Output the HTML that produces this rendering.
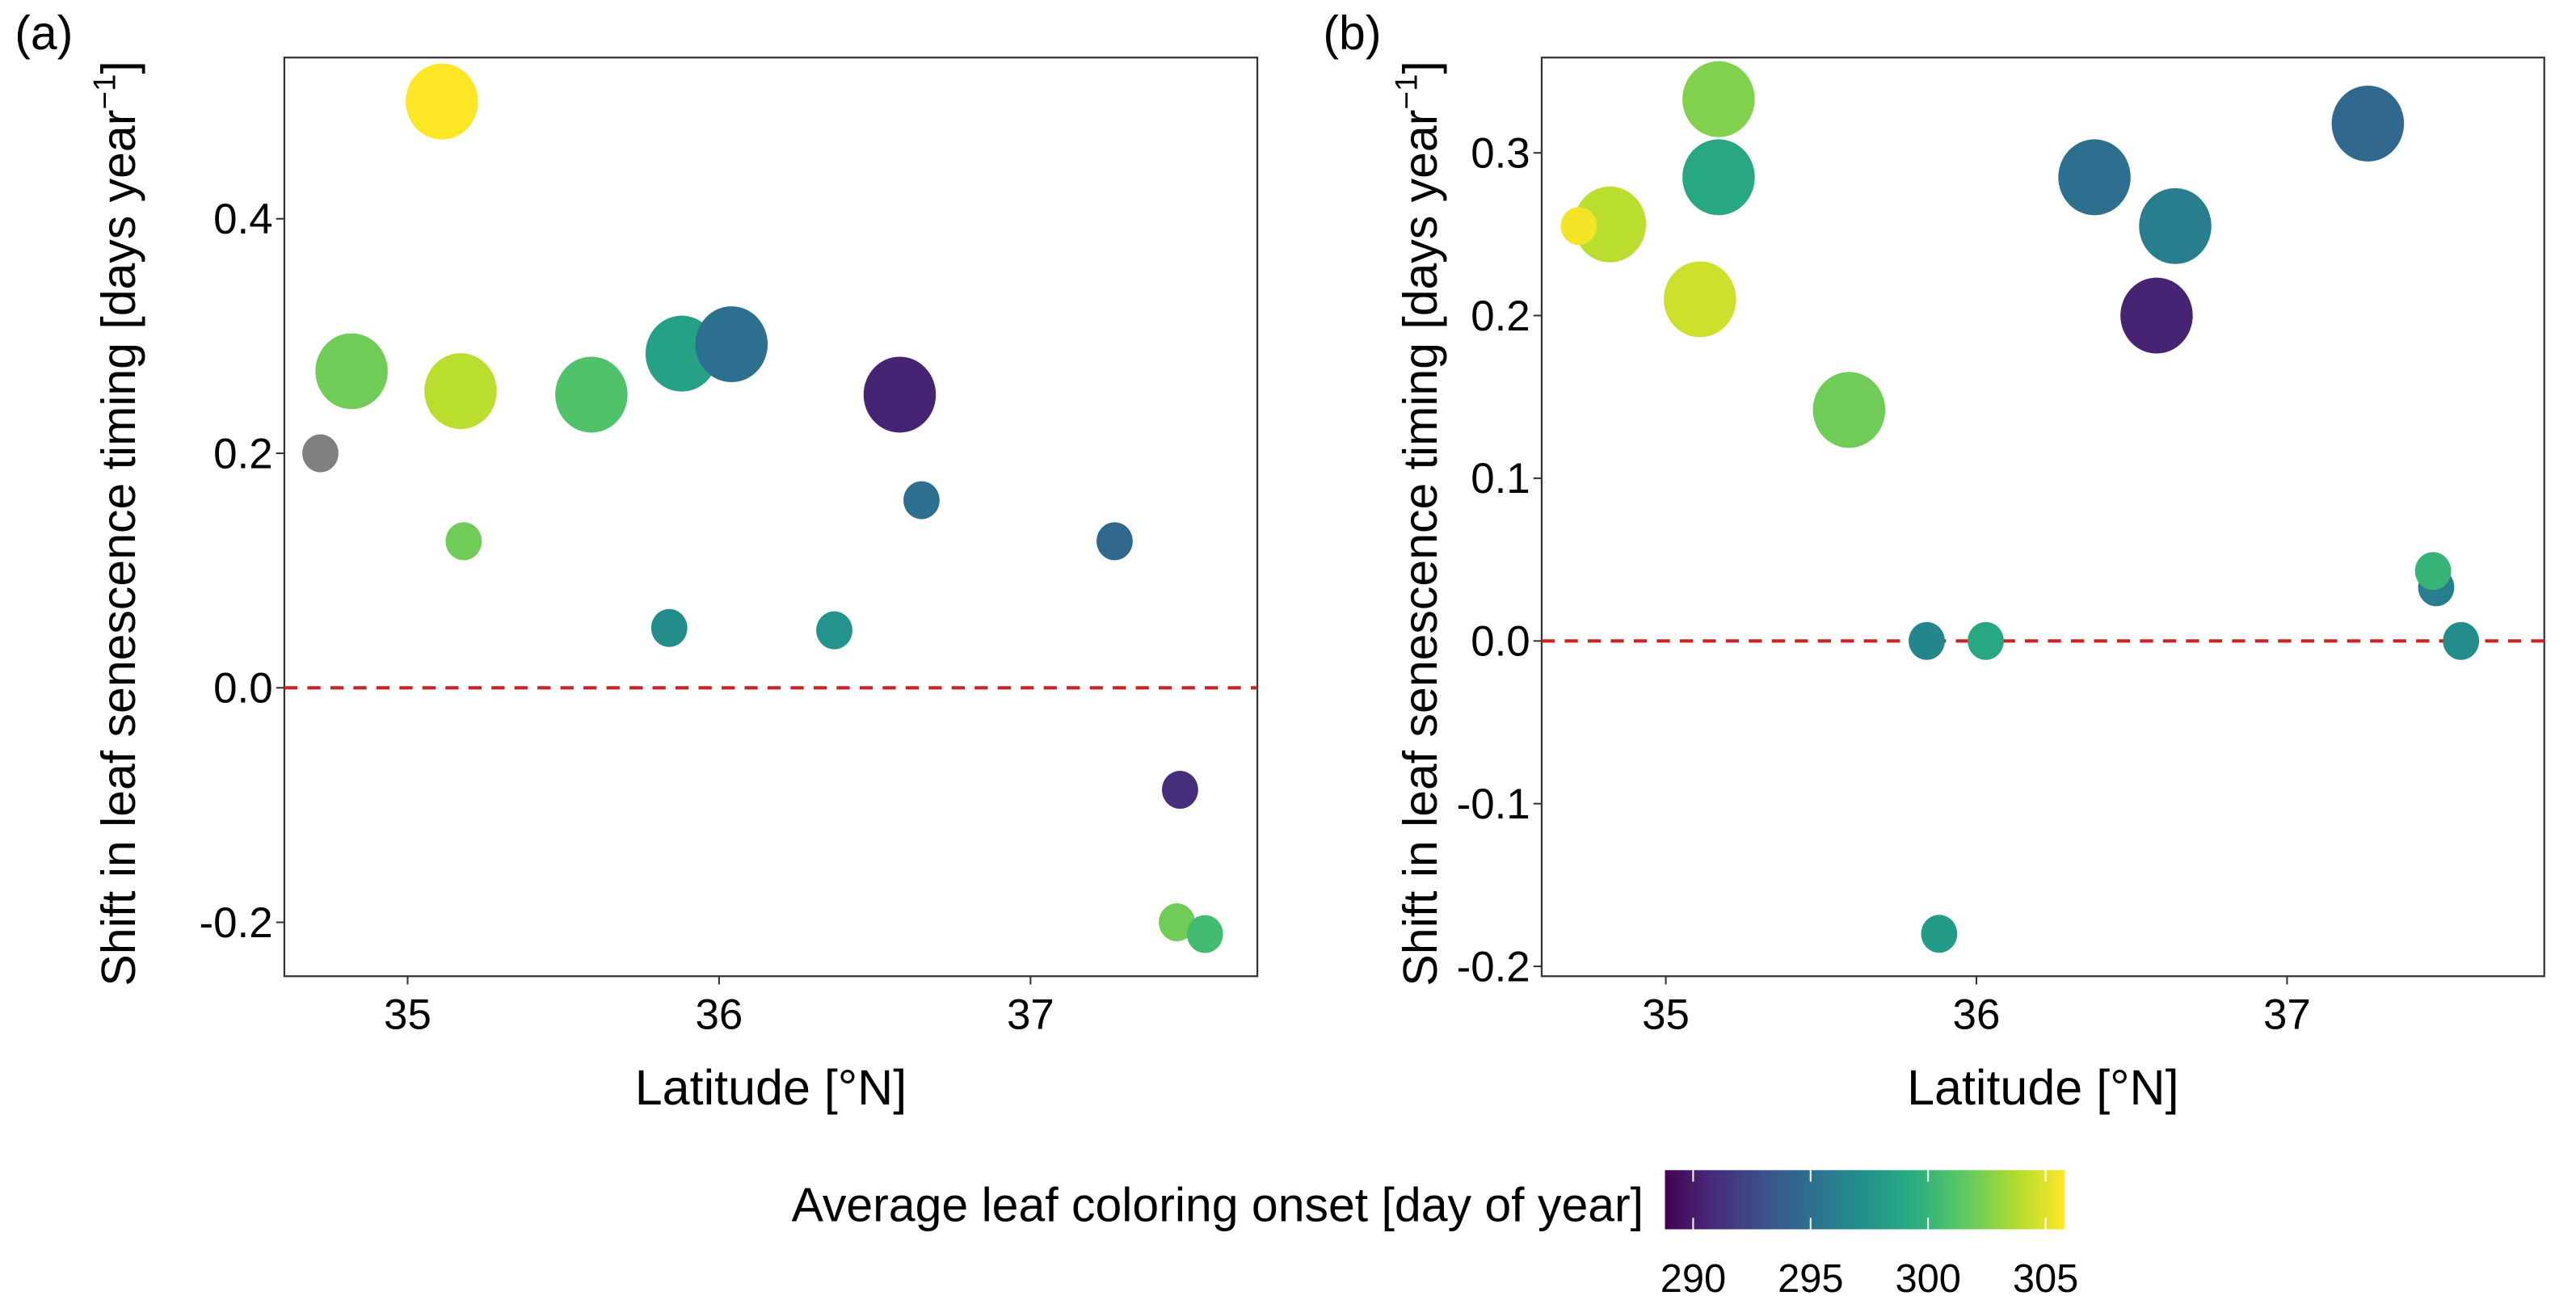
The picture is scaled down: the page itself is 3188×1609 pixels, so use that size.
<!DOCTYPE html>
<html><head><meta charset="utf-8"><style>
html,body{margin:0;padding:0;background:#fff}
svg{display:block}
text{font-family:"Liberation Sans",Arial,sans-serif;fill:#000}
</style></head><body>
<svg id="fig" width="3188" height="1609" viewBox="0 0 1567.3 791" xmlns="http://www.w3.org/2000/svg">
<defs>
<linearGradient id="vir" x1="0" x2="1" y1="0" y2="0">
<stop offset="0" stop-color="#440154"/><stop offset="0.125" stop-color="#472d7b"/><stop offset="0.25" stop-color="#3b528b"/><stop offset="0.375" stop-color="#2c728e"/><stop offset="0.5" stop-color="#21918c"/><stop offset="0.625" stop-color="#28ae80"/><stop offset="0.75" stop-color="#5ec962"/><stop offset="0.875" stop-color="#addc30"/><stop offset="1" stop-color="#fde725"/>
</linearGradient>
</defs>
<g id="layer"></g>
</svg>
<script>
// Panel (a) data
const latA = [35.11, 34.82, 35.17, 35.59, 35.88, 36.04, 36.58, 34.72, 35.18, 36.65, 37.27, 35.84, 36.37, 37.48, 37.47, 37.56];
const shiftA = [0.50, 0.27, 0.253, 0.25, 0.285, 0.293, 0.25, 0.20, 0.125, 0.16, 0.125, 0.051, 0.049, -0.087, -0.20, -0.21];
const bigA = [1, 1, 1, 1, 1, 1, 1, 0, 0, 0, 0, 0, 0, 0, 0, 0];
const onsetA = [306, 302, 304, 301, 298.5, 295, 290.5, null, 302, 295, 294.5, 297, 297.5, 291, 302, 300.5];
// Panel (b) data
const latB = [34.82, 34.72, 35.11, 35.17, 35.17, 35.59, 36.38, 36.64, 36.58, 37.26, 35.84, 36.03, 35.88, 37.48, 37.47, 37.56];
const shiftB = [0.256, 0.255, 0.21, 0.333, 0.285, 0.142, 0.285, 0.255, 0.20, 0.318, 0.0, 0.0, -0.18, 0.033, 0.043, 0.0];
const bigB = [1, 0, 1, 1, 1, 1, 1, 1, 1, 1, 0, 0, 0, 0, 0, 0];
const onsetB = [304, 305.5, 304.5, 302.5, 299, 302, 295, 296, 290.5, 294.5, 296.5, 299, 298, 296, 300, 297];
const xTicks = [35, 36, 37];
const yTicksA = [-0.2, 0.0, 0.2, 0.4];
const yTicksALabels = ["-0.2", "0.0", "0.2", "0.4"];
const yTicksB = [-0.2, -0.1, 0.0, 0.1, 0.2, 0.3];
const yTicksBLabels = ["-0.2", "-0.1", "0.0", "0.1", "0.2", "0.3"];
const cbTicks = [290, 295, 300, 305];

const NS = "http://www.w3.org/2000/svg";
const layer = document.getElementById('layer');
function mk(tag, attrs, parent) {
  const e = document.createElementNS(NS, tag);
  for (const k in attrs) e.setAttribute(k, attrs[k]);
  (parent || layer).appendChild(e);
  return e;
}
const vstops = ["#440154","#472d7b","#3b528b","#2c728e","#21918c","#28ae80","#5ec962","#addc30","#fde725"];
function hex(c){return [1,3,5].map(i=>parseInt(c.substr(i,2),16));}
function viridis(v) {
  if (v === null) return "#808080";
  let t = (v - 288.8) / (305.8 - 288.8);
  t = Math.max(0, Math.min(1, t));
  const p = t * 8, i = Math.min(7, Math.floor(p)), f = p - i;
  const a = hex(vstops[i]), b = hex(vstops[i + 1]);
  return "rgb(" + a.map((x, k) => Math.round(x + (b[k] - x) * f)).join(",") + ")";
}

function panel(cfg) {
  const g = mk('g', {});
  
  
  const sx = v => cfg.x0 + (v - 35) * cfg.px;
  const sy = v => cfg.y0 - v * cfg.py;
  const box = mk('rect', {x: cfg.L, y: cfg.T, width: cfg.R - cfg.L, height: cfg.B - cfg.T, fill: 'none', stroke: '#333', 'stroke-width': 1.1}, g);
  
  
  const zl = mk('line', {x1: cfg.L, x2: cfg.R, y1: sy(0), y2: sy(0), stroke: '#cc2222', 'stroke-width': 2, 'stroke-dasharray': '8,6'}, g);
  
  
  xTicks.forEach(t => {
    const x = sx(t);
    const tk = mk('line', {x1: x, x2: x, y1: cfg.B, y2: cfg.B + 5, stroke: '#333', 'stroke-width': 1}, g);
    
    
    const tl = mk('text', {x: x, y: cfg.B + 32, 'font-size': 26, 'text-anchor': 'middle', fill: '#222'}, g);
    tl.textContent = String(t);
    
    
  });
  cfg.yt.forEach((t, i) => {
    const y = sy(t);
    const tk = mk('line', {x1: cfg.L - 5, x2: cfg.L, y1: y, y2: y, stroke: '#333', 'stroke-width': 1}, g);
    
    
    const tl = mk('text', {x: cfg.L - 7, y: y + 9, 'font-size': 26, 'text-anchor': 'end', fill: '#222'}, g);
    tl.textContent = cfg.ytl[i];
    
    
  });
  const order = cfg.lat.map((_, i) => i).sort((a, b) => cfg.big[b] - cfg.big[a]);
  order.forEach(i => {
    const r = cfg.big[i] ? 22 : 11;
    const c = mk('ellipse', {cx: sx(cfg.lat[i]), cy: sy(cfg.val[i]), rx: r, ry: r * 1.05, fill: viridis(cfg.col[i])}, g);
    
    
  });
  const xt = mk('text', {x: (cfg.L + cfg.R) / 2, y: 672, 'font-size': 30, 'text-anchor': 'middle'}, g);
  xt.textContent = 'Latitude [°N]';
  
  
  const yt = mk('text', {transform: 'translate(' + cfg.ytx + ',' + ((cfg.T + cfg.B) / 2 + 4) + ') rotate(-90)', 'font-size': 29, 'text-anchor': 'middle'}, g);
  yt.textContent = 'Shift in leaf senescence timing [days year';
  const sup = mk('tspan', {'font-size': 19, dy: -12}, yt);
  sup.textContent = '−1';
  const cl = mk('tspan', {dy: 12}, yt);
  cl.textContent = ']';
  
  
  const lb = mk('text', {x: cfg.labx, y: 30, 'font-size': 29}, g);
  lb.textContent = cfg.label;
  
  
}

panel({name: 'panel-a', L: 173, R: 765, T: 35, B: 594, x0: 248, px: 189.5, y0: 418.5, py: 713.5,
  lat: latA, val: shiftA, big: bigA, col: onsetA, yt: yTicksA, ytl: yTicksALabels, ytx: 82, labx: 9, label: '(a)'});
panel({name: 'panel-b', L: 938, R: 1548, T: 35, B: 594, x0: 1013.5, px: 189, y0: 390, py: 990,
  lat: latB, val: shiftB, big: bigB, col: onsetB, yt: yTicksB, ytl: yTicksBLabels, ytx: 874, labx: 805, label: '(b)'});

// Legend
const lg = mk('g', {});


const lt = mk('text', {x: 1000, y: 743, 'font-size': 29, 'text-anchor': 'end'}, lg);
lt.textContent = 'Average leaf coloring onset [day of year]';


const cb = mk('rect', {x: 1013, y: 712, width: 243, height: 36, fill: 'url(#vir)'}, lg);


const cbx = v => 1013 + (v - 288.8) * (243 / 17);
cbTicks.forEach(t => {
  const x = cbx(t);
  const a = mk('line', {x1: x, x2: x, y1: 712, y2: 719, stroke: '#fff', 'stroke-width': 1}, lg);
  
  
  const b = mk('line', {x1: x, x2: x, y1: 741, y2: 748, stroke: '#fff', 'stroke-width': 1}, lg);
  
  
  const tl = mk('text', {x: x, y: 786, 'font-size': 24, 'text-anchor': 'middle', fill: '#222'}, lg);
  tl.textContent = String(t);
  
  
});
</script>
</body></html>
